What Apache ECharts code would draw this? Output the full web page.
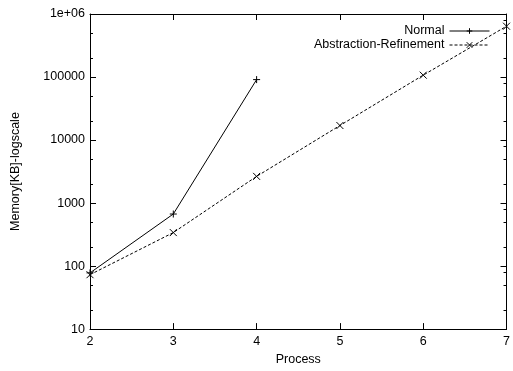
<!DOCTYPE html>
<html>
<head>
<meta charset="utf-8">
<script src="https://cdn.jsdelivr.net/npm/echarts@6/dist/echarts.min.js"></script>
<style>html,body{margin:0;padding:0;background:#fff}#c{width:513px;height:371px}</style>
</head>
<body>
<div id="c"></div>
<script>
const processes = [2, 3, 4, 5, 6, 7];
const normalValues = [78, 670, 91000];
const abstractionValues = [73, 340, 2650, 17000, 107000, 640000];
const yTickValues = [10, 100, 1000, 10000, 100000, 1000000];
const yTickLabels = ['10', '100', '1000', '10000', '100000', '1e+06'];
const yMinorTickValues = [20, 50, 200, 500, 2000, 5000, 20000, 50000, 200000, 500000];
const yRightExtraTickValues = [80, 800, 8000, 80000, 800000];

const FONT = 'Liberation Sans';
const black = '#000';
const plusPath = 'path://M0,5L10,5M5,0L5,10';
const crossPath = 'path://M0,0L10,10M0,10L10,0';

const chart = echarts.init(document.getElementById('c'), null, {renderer: 'canvas'});

function log10s(arr) { return arr.map(v => Math.log10(v)); }

const option = {
  animation: false,
  backgroundColor: '#fff',
  textStyle: {fontFamily: FONT, color: black},
  grid: {left: 90, top: 14, right: 4, bottom: 39, containLabel: false},
  legend: {
    orient: 'vertical',
    right: 18,
    top: 19,
    align: 'right',
    itemGap: 0,
    itemWidth: 40,
    itemHeight: 7,
    lineStyle: {width: 1},
    itemStyle: {borderWidth: 1},
    textStyle: {fontFamily: FONT, fontSize: 12.5, color: black, lineHeight: 14},
    data: ['Normal', 'Abstraction-Refinement']
  },
  xAxis: [
    {
      type: 'value', min: 2, max: 7, interval: 1, position: 'bottom',
      name: 'Process', nameLocation: 'middle', nameGap: 23,
      nameTextStyle: {fontFamily: FONT, fontSize: 12.5, color: black},
      axisLine: {show: true, lineStyle: {color: black, width: 1}},
      axisTick: {show: true, inside: true, length: 6, lineStyle: {color: black}},
      axisLabel: {show: true, margin: 6, fontFamily: FONT, fontSize: 12.5, color: black},
      splitLine: {show: false}
    },
    {
      type: 'value', min: 2, max: 7, interval: 1, position: 'top',
      axisLine: {show: true, lineStyle: {color: black, width: 1}},
      axisTick: {show: true, inside: true, length: 6, lineStyle: {color: black}},
      axisLabel: {show: false},
      splitLine: {show: false}
    }
  ],
  yAxis: [
    {
      type: 'log', logBase: 10, min: 10, max: 1000000, position: 'left',
      name: 'Memory[KB]-logscale', nameLocation: 'middle', nameGap: 68, nameRotate: 90,
      nameTextStyle: {fontFamily: FONT, fontSize: 12.5, color: black},
      axisLine: {show: true, lineStyle: {color: black, width: 1}},
      axisTick: {show: true, inside: true, length: 6, lineStyle: {color: black}},
      axisLabel: {
        show: true, margin: 5, fontFamily: FONT, fontSize: 12.5, color: black,
        formatter: v => {
          const i = yTickValues.findIndex(t => Math.abs(t - v) / t < 1e-6);
          return i >= 0 ? yTickLabels[i] : '';
        }
      },
      splitLine: {show: false}
    },
    {
      type: 'log', logBase: 10, min: 10, max: 1000000, position: 'right',
      axisLine: {show: true, lineStyle: {color: black, width: 1}},
      axisTick: {show: true, inside: true, length: 6, lineStyle: {color: black}},
      axisLabel: {show: false},
      splitLine: {show: false}
    },
    {
      type: 'value', min: 1, max: 6, position: 'left',
      axisLine: {show: false},
      axisTick: {show: true, inside: true, length: 3, lineStyle: {color: black, width: 1}, customValues: log10s(yMinorTickValues)},
      axisLabel: {show: false, customValues: log10s(yMinorTickValues)},
      splitLine: {show: false}
    },
    {
      type: 'value', min: 1, max: 6, position: 'right',
      axisLine: {show: false},
      axisTick: {show: true, inside: true, length: 3, lineStyle: {color: black, width: 1}, customValues: log10s(yMinorTickValues.concat(yRightExtraTickValues))},
      axisLabel: {show: false, customValues: log10s(yMinorTickValues.concat(yRightExtraTickValues))},
      splitLine: {show: false}
    }
  ],
  series: [
    {
      name: 'Normal', type: 'line', xAxisIndex: 0, yAxisIndex: 0,
      data: normalValues.map((v, i) => [processes[i], v]),
      symbol: plusPath, symbolSize: 7,
      itemStyle: {color: black, borderColor: black, borderWidth: 1},
      lineStyle: {color: black, width: 1, type: 'solid'},
      z: 3
    },
    {
      name: 'Abstraction-Refinement', type: 'line', xAxisIndex: 0, yAxisIndex: 0,
      data: abstractionValues.map((v, i) => [processes[i], v]),
      symbol: crossPath, symbolSize: 7,
      itemStyle: {color: black, borderColor: black, borderWidth: 1},
      lineStyle: {color: black, width: 1, type: [3, 2]},
      z: 3
    }
  ]
};
chart.setOption(option);
</script>
</body>
</html>
